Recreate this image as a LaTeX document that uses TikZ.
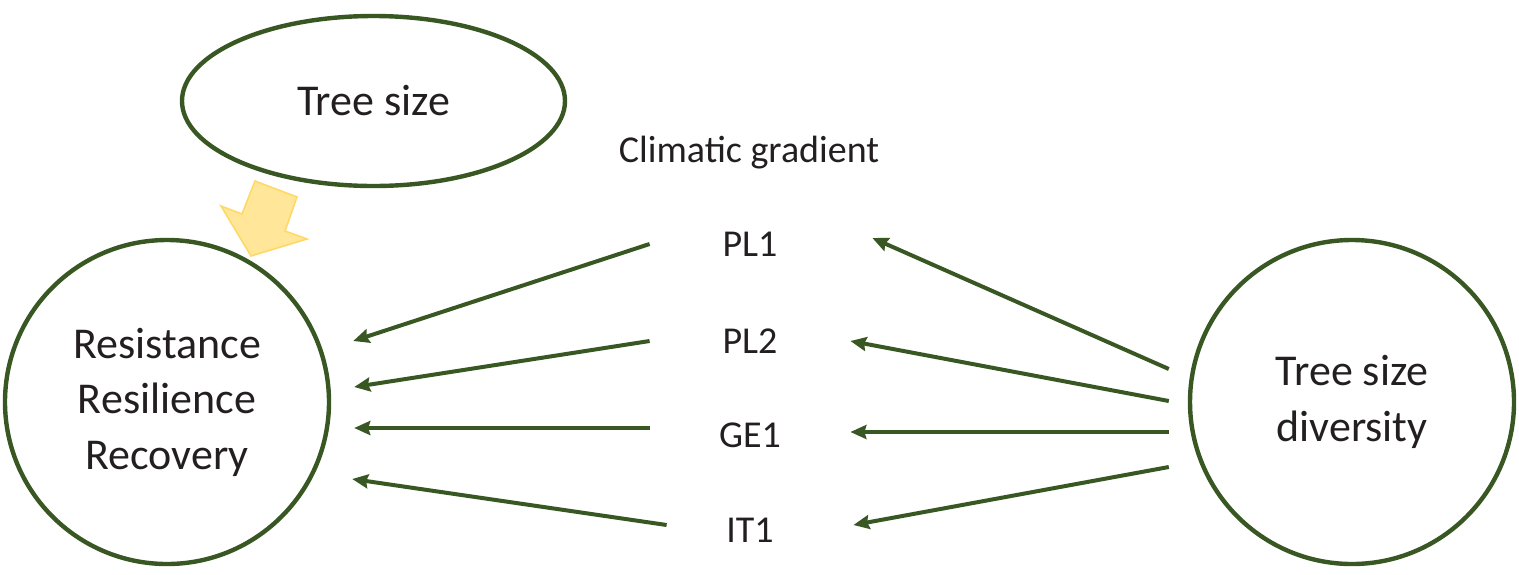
\documentclass[tikz,border=0pt]{standalone}
\usepackage{fontspec}
\setmainfont{Carlito}
\usepackage{xcolor}
\usepackage{tikz}
\usetikzlibrary{arrows.meta,positioning,shapes.geometric}

\definecolor{leafgreen}{RGB}{56,87,35}
\definecolor{sunfill}{RGB}{255,230,153}
\definecolor{sunedge}{RGB}{255,217,102}
\definecolor{inkgray}{RGB}{35,31,32}

\begin{document}
\begin{tikzpicture}[x=0.5pt,y=-0.5pt,
  bigcirc/.style={circle,draw=leafgreen,line width=2.2pt,minimum size=162pt,inner sep=0pt,
    align=center,text=inkgray,font=\fontsize{22}{27.7}\selectfont},
  pathlabel/.style={minimum width=100pt,inner sep=0pt,text=inkgray,font=\fontsize{19}{23}\selectfont},
  effect/.style={draw=leafgreen,line width=2pt,-{Stealth[length=8pt,width=7pt,inset=1pt]}}]
  \useasboundingbox (0,0) rectangle (1519,574);
  % constructs
  \node[bigcirc] (res) at (167,402) {Resistance\\Resilience\\Recovery};
  \node[bigcirc] (div) at (1352,402) {Tree size\\diversity};
  \node[ellipse,draw=leafgreen,line width=2.2pt,minimum width=191.5pt,minimum height=85pt,
    text=inkgray,font=\fontsize{22}{27}\selectfont] (size) at (373.5,101) {Tree size};
  % climatic gradient
  \node[pathlabel] (clim) at (749,153) {Climatic gradient};
  \node[pathlabel] (pl1) at (750,244) {PL1};
  \node[pathlabel] (pl2) at (750,341) {PL2};
  \node[pathlabel] (ge1) at (750,435) {GE1};
  \node[pathlabel] (it1) at (750,530) {IT1};
  % tree size effect (block arrow)
  \draw[sunedge,fill=sunfill,line width=0.8pt] (255,181) -- (297,197) -- (285,231) -- (307,239)
    -- (251,256) -- (221,206) -- (242,214) -- cycle;
  % gradient -> response
  \draw[effect] (pl1.west) -- ([shift={(22,-61)}]res.east);
  \draw[effect] (pl2.west) -- ([shift={(23,-15)}]res.east);
  \draw[effect] ([shift={(0,-7)}]ge1.west) -- ([shift={(23,26)}]res.east);
  \draw[effect] ([shift={(17,-5)}]it1.west) -- ([shift={(21,77)}]res.east);
  % diversity -> gradient
  \draw[effect] ([shift={(-19,-33)}]div.west) -- ([shift={(22,-6)}]pl1.east);
  \draw[effect] ([shift={(-19,-1)}]div.west) -- (pl2.east);
  \draw[effect] ([shift={(-19,30)}]div.west) -- ([shift={(0,-3)}]ge1.east);
  \draw[effect] ([shift={(-19,65)}]div.west) -- ([shift={(3,-5)}]it1.east);
\end{tikzpicture}
\end{document}
